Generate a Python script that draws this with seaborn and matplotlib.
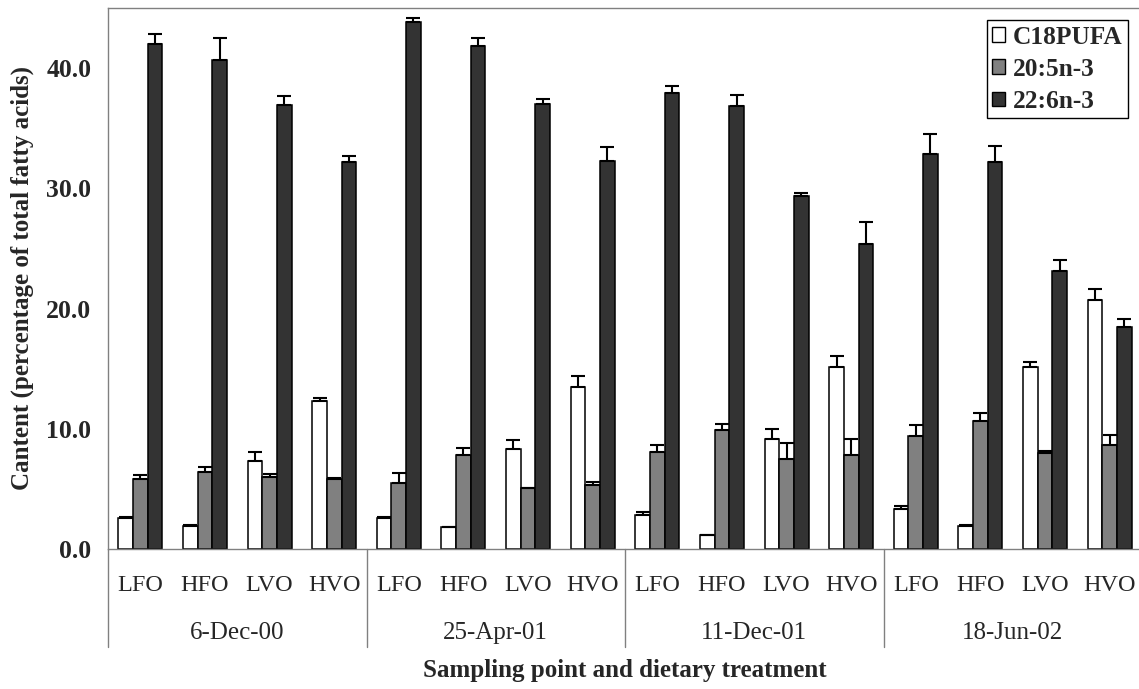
import numpy as np
import pandas as pd
import matplotlib
matplotlib.use("Agg")
import matplotlib.pyplot as plt
import matplotlib.transforms as mtransforms
import seaborn as sns

# ---------------- data ----------------
dates = ["6-Dec-00", "25-Apr-01", "11-Dec-01", "18-Jun-02"]
treatments = ["LFO", "HFO", "LVO", "HVO"]
series = ["C18PUFA", "20:5n-3", "22:6n-3"]

c18pufa = [2.6, 1.95, 7.3, 12.35,
           2.6, 1.8, 8.35, 13.45,
           2.8, 1.15, 9.18, 15.1,
           3.35, 1.88, 15.16, 20.7]
c18pufa_err = [0.05, 0.05, 0.75, 0.25,
               0.05, 0.05, 0.72, 0.97,
               0.28, 0.02, 0.83, 0.94,
               0.22, 0.08, 0.39, 0.95]

epa = [5.86, 6.42, 6.03, 5.86,
       5.53, 7.86, 5.08, 5.36,
       8.1, 9.9, 7.47, 7.8,
       9.41, 10.65, 8.02, 8.69]
epa_err = [0.28, 0.36, 0.19, 0.03,
           0.8, 0.5, 0.03, 0.22,
           0.53, 0.5, 1.35, 1.36,
           0.88, 0.66, 0.17, 0.8]

dha = [41.97, 40.7, 36.9, 32.16,
       43.87, 41.87, 37.05, 32.3,
       37.94, 36.86, 29.33, 25.33,
       32.86, 32.2, 23.1, 18.5]
dha_err = [0.89, 1.8, 0.75, 0.57,
           0.32, 0.67, 0.35, 1.16,
           0.56, 0.94, 0.27, 1.87,
           1.64, 1.3, 0.9, 0.6]

values = [c18pufa, epa, dha]
errors = [c18pufa_err, epa_err, dha_err]
colors = ["#ffffff", "#808080", "#333333"]

# ---------------- table ----------------
cat_keys = [f"{d}|{t}" for d in dates for t in treatments]
rows = []
for s, vals in zip(series, values):
    for k, v in zip(cat_keys, vals):
        rows.append({"cat": k, "series": s, "value": v})
df = pd.DataFrame(rows)

# ---------------- style ----------------
sns.set_style("white")
plt.rcParams["font.family"] = ["Liberation Serif", "DejaVu Serif"]

W, H = 1139, 689
fig = plt.figure(figsize=(W / 100, H / 100), dpi=100)
ax_left, ax_right, ax_top, ax_base = 108, 1142, 8, 549
ax = fig.add_axes([ax_left / W, 1 - ax_base / H,
                   (ax_right - ax_left) / W, (ax_base - ax_top) / H])

sns.barplot(data=df, x="cat", y="value", hue="series", order=cat_keys,
            hue_order=series, palette=colors, edgecolor="black",
            linewidth=1.1, width=0.68, errorbar=None, ax=ax, legend=True,
            zorder=2)

# error bars (upper only)
for cont, vals, errs in zip(ax.containers, values, errors):
    xs = [p.get_x() + p.get_width() / 2 for p in cont.patches]
    ax.errorbar(xs, vals, yerr=[np.zeros(len(errs)), errs], fmt="none",
                ecolor="black", elinewidth=1.5, capsize=4.8, capthick=1.5,
                zorder=3)

ax.set_xlim(-0.5, len(cat_keys) - 0.5)
ax.set_ylim(0, 45)
ax.set_yticks([0, 10, 20, 30, 40])
ax.set_yticklabels([f"{v:.1f}" for v in [0, 10, 20, 30, 40]],
                   fontweight="bold", fontsize=18.5)
ax.tick_params(axis="y", direction="in", length=5, width=1,
               color="#808080", pad=12)
ax.set_xticks(range(len(cat_keys)))
ax.set_xticklabels([k.split("|")[1] for k in cat_keys], fontsize=17.5)
ax.tick_params(axis="x", length=0, pad=19)

for sp in ax.spines.values():
    sp.set_color("#808080")
    sp.set_linewidth(1.0)

# group labels and separators
trans = mtransforms.blended_transform_factory(ax.transData, ax.transAxes)
ax_h = ax_base - ax_top
date_y = -(633 - ax_base) / ax_h
sep_y = -(647 - ax_base) / ax_h
for i, d in enumerate(dates):
    xc = i * len(treatments) + (len(treatments) - 1) / 2
    ax.text(xc, date_y, d, transform=trans, ha="center", va="center",
            fontsize=18)
for i in range(len(dates)):
    xb = i * len(treatments) - 0.5
    ax.plot([xb, xb], [0, sep_y], transform=trans, color="#808080",
            lw=1.0, clip_on=False)

ax.set_xlabel("Sampling point and dietary treatment", fontweight="bold",
              fontsize=18)
ax.xaxis.set_label_coords(0.5, -(671 - ax_base) / ax_h)
ax.xaxis.label.set_va("center")
ax.set_ylabel("Cantent (percentage of total fatty acids)", fontweight="bold",
              fontsize=18)
ax.yaxis.set_label_coords((22 - ax_left) / (ax_right - ax_left), 0.5)
ax.yaxis.label.set_va("center")

leg = ax.legend(loc="upper right",
                bbox_to_anchor=(1128 / W, 1 - 20 / H),
                bbox_transform=fig.transFigure, borderaxespad=0,
                frameon=True, fancybox=False, edgecolor="black",
                prop={"weight": "bold", "size": 18.3},
                handlelength=0.5, handleheight=0.5, handletextpad=0.3,
                labelspacing=0.36, borderpad=0.22)
leg.get_frame().set_linewidth(1.0)
leg.get_frame().set_alpha(1)
for h in leg.legend_handles:
    h.set_edgecolor("black")
    h.set_linewidth(1.0)

fig.savefig("out.png", dpi=100)
